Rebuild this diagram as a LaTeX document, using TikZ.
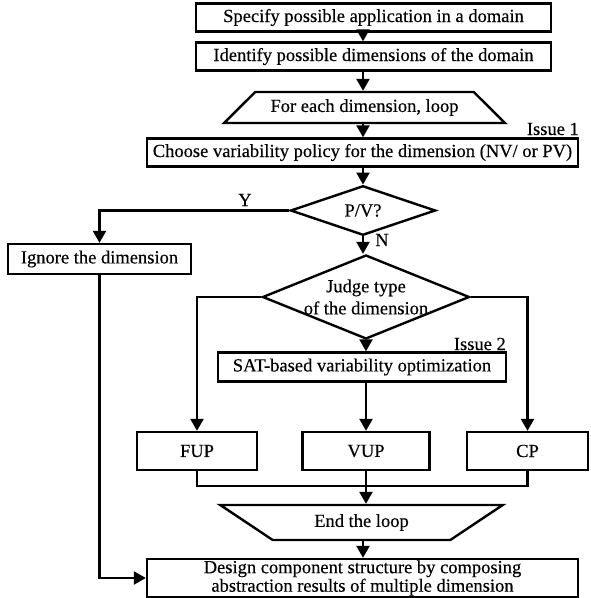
\documentclass[tikz,border=0pt]{standalone}
\usepackage{fontspec}
\setmainfont{Liberation Serif}[UprightFeatures={FakeBold=0.35}]
\usetikzlibrary{shapes.geometric,arrows.meta}
\begin{document}
\begin{tikzpicture}[x=1pt,y=-1pt,
  font=\fontsize{18.5}{21}\selectfont,
  lw/.style={line width=2.4pt},
  box/.style={draw,lw,inner sep=0pt,align=center},
  decide/.style={draw,lw,diamond,inner sep=0pt,align=center},
  loopbox/.style={draw,lw,trapezium,trapezium stretches=true,inner sep=0pt,align=center},
  arr/.style={lw,-{Triangle[length=12pt,width=13pt]}},
  conn/.style={lw}]
\useasboundingbox (0,0) rectangle (590,598);

% main column
\node[box,minimum width=355,minimum height=28] (spec) at (373.5,17.5) {Specify possible application in a domain};
\node[box,minimum width=355,minimum height=28] (ident) at (373.5,56.5) {Identify possible dimensions of the domain};
\node[loopbox,minimum width=281,minimum height=31,trapezium angle=32] (loop) at (364.5,107.5) {For each dimension, loop};
\node[anchor=east,inner sep=0pt] (iss1) at (579,129) {Issue 1};
\node[box,minimum width=431,minimum height=28] (choose) at (362.5,152.5) {Choose variability policy for the dimension (NV/ or PV)};
\node[decide,minimum width=145,minimum height=32] (pv) at (363,210.5) {P/V?};
\node[box,minimum width=183,minimum height=30] (ignore) at (99.5,259) {Ignore the dimension};
\node[decide,minimum width=207,minimum height=84] (judge) at (366,297) {};
\node[inner sep=0pt,align=center,font=\fontsize{18.5}{22}\selectfont] (judgetxt) at (judge.center) {Judge type\\of the dimension};
\node[anchor=east,inner sep=0pt] (iss2) at (506,344) {Issue 2};
\node[box,minimum width=288,minimum height=29] (sat) at (362,367) {SAT-based variability optimization};
\node[box,minimum width=120,minimum height=38] (fup) at (197,451) {FUP};
\node[box,minimum width=127,minimum height=38] (vup) at (366,451) {VUP};
\node[box,minimum width=121,minimum height=38] (cp) at (527.5,451) {CP};
\node[loopbox,minimum width=283,minimum height=35,trapezium angle=31,shape border rotate=180] (endl) at (361.5,522.5) {End the loop};
\node[box,minimum width=431,minimum height=38,font=\fontsize{18.5}{18.5}\selectfont] (design) at (362.5,578) {Design component structure by composing\\abstraction results of multiple dimension};

% branch labels
\node[inner sep=0pt] (ylab) at (245,200) {Y};
\node[inner sep=0pt] (nlab) at (382,240) {N};

% connectors
\draw[arr] (spec.south -| pv) -- (ident.north -| pv);
\draw[arr] (ident.south -| pv) -- (loop.north -| pv);
\draw[arr] (loop.south -| pv) -- (choose.north -| pv);
\draw[arr] (choose.south -| pv) -- (pv.north);
\draw[arr] (pv.west) -| (ignore.north);
\draw[arr] (pv.south) -- (judge.north -| pv);
\draw[arr] (judge.west) -| (fup.north);
\draw[arr] (judge.east) -| (cp.north);
\draw[arr] (judge.south) -- (judge.south |- sat.north);
\draw[arr] (sat.south -| vup) -- (vup.north);
\coordinate (join) at (366,486);
\draw[conn] (fup.south) |- (join) -| (cp.south);
\draw[arr] (vup.south) -- (endl.north -| vup);
\draw[arr] (endl.south -| pv) -- (design.north -| pv);
\draw[arr] (ignore.south) |- (design.west);
\end{tikzpicture}
\end{document}
